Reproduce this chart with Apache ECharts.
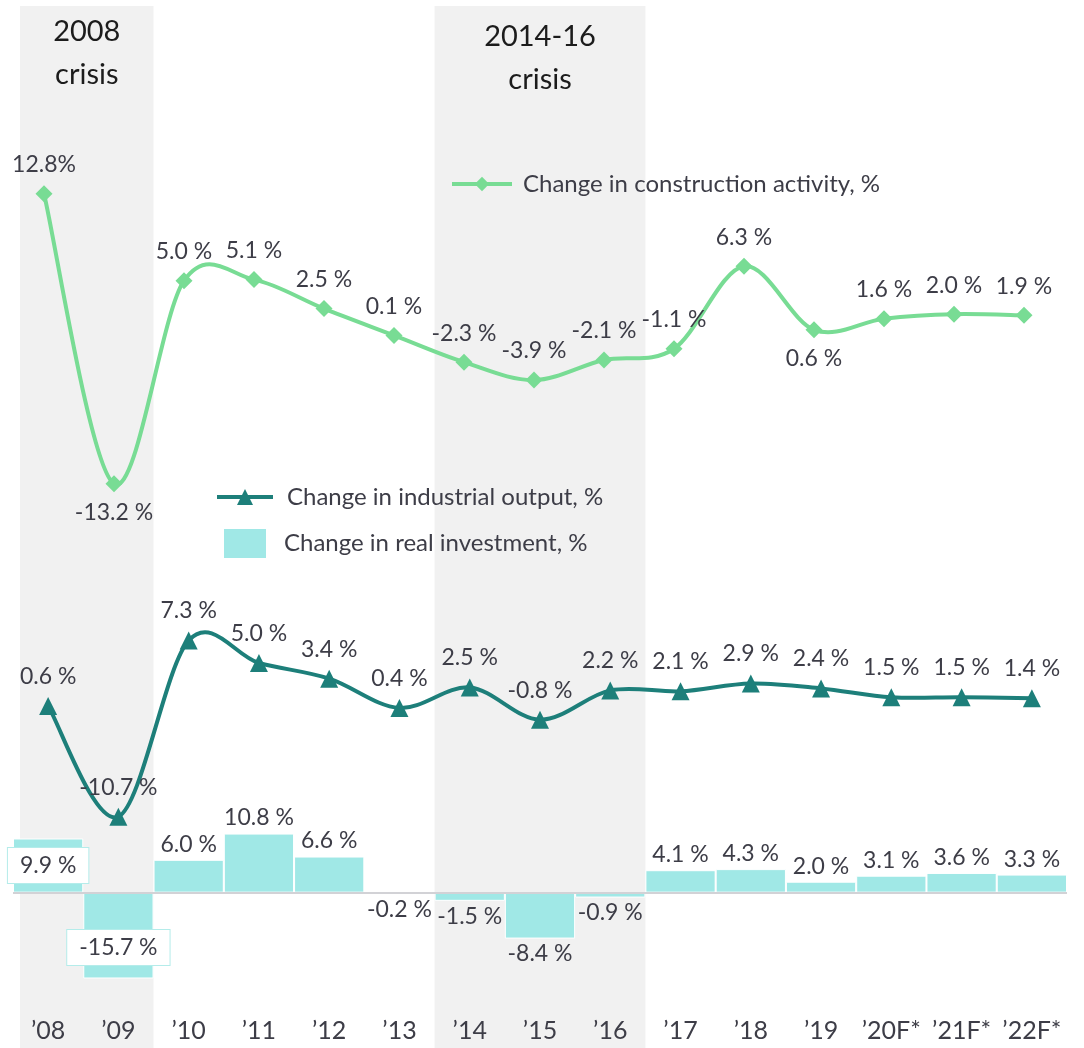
<!DOCTYPE html>
<html>
<head>
<meta charset="utf-8">
<script src="https://cdn.jsdelivr.net/npm/echarts@6/dist/echarts.min.js"></script>
<style>
  html, body { margin: 0; padding: 0; background: #fff; }
  #chart { width: 1084px; height: 1048px; }
</style>
</head>
<body>
<div id="chart"></div>
<script>
const years = ['’08', '’09', '’10', '’11', '’12', '’13', '’14', '’15', '’16', '’17', '’18', '’19', '’20F*', '’21F*', '’22F*']
const construction = [12.8, -13.2, 5.0, 5.1, 2.5, 0.1, -2.3, -3.9, -2.1, -1.1, 6.3, 0.6, 1.6, 2.0, 1.9]
const industrial = [0.6, -10.7, 7.3, 5.0, 3.4, 0.4, 2.5, -0.8, 2.2, 2.1, 2.9, 2.4, 1.5, 1.5, 1.4]
const investment = [9.9, -15.7, 6.0, 10.8, 6.6, -0.2, -1.5, -8.4, -0.9, 4.1, 4.3, 2.0, 3.1, 3.6, 3.3]
const crises = [
  { name: '2008\ncrisis', from: 0.1, to: 2 },
  { name: '2014-16\ncrisis', from: 6, to: 9 }
]

const NAMES = {
  con: 'Change in construction activity, %',
  ind: 'Change in industrial output, %',
  inv: 'Change in real investment, %'
}
const FONT = 'Lato'
const TEXT = '#3d3d47'
const GREEN = '#78dc94'
const TEAL = '#1d7f7a'
const CYAN = '#a0e8e6'
const pct = v => v.toFixed(1) + ' %'

// construction labels that sit under the point
const conBelow = [1, 11]
// investment bars whose label sits inside a white box
const invBoxed = { 0: [0, 0], 1: [0, 12] }

const chart = echarts.init(document.getElementById('chart'))

const conData = construction.map((v, i) => ({
  value: v,
  label: {
    position: conBelow.includes(i) ? 'bottom' : 'top',
    formatter: i === 0 ? v.toFixed(1) + '%' : pct(v)
  }
}))

const invData = investment.map((v, i) => {
  if (invBoxed[i]) {
    return {
      value: v,
      label: {
        position: 'inside',
        offset: invBoxed[i],
        backgroundColor: '#fff',
        borderColor: '#b4ecea',
        borderWidth: 1,
        padding: [6, 12]
      }
    }
  }
  return { value: v, label: { position: v >= 0 ? 'top' : 'bottom' } }
})

// spreadsheet-style smoothing (can overshoot between points)
const curve = (values, color) => (params, api) => {
  const i = params.dataIndex
  const n = values.length
  if (i >= n - 1) return null
  const pt = k => {
    const j = Math.max(0, Math.min(n - 1, k))
    return api.coord([j, values[j]])
  }
  const p0 = pt(i - 1), p1 = pt(i), p2 = pt(i + 1), p3 = pt(i + 2)
  return {
    type: 'bezierCurve',
    shape: {
      x1: p1[0], y1: p1[1],
      x2: p2[0], y2: p2[1],
      cpx1: p1[0] + (p2[0] - p0[0]) / 6,
      cpy1: p1[1] + (p2[1] - p0[1]) / 6,
      cpx2: p2[0] - (p3[0] - p1[0]) / 6,
      cpy2: p2[1] - (p3[1] - p1[1]) / 6
    },
    style: { stroke: color, lineWidth: 4, fill: 'none' }
  }
}

const hiddenCat = idx => ({
  type: 'category', gridIndex: idx, data: years, show: false, boundaryGap: true
})
const hiddenVal = (idx, min, max) => ({
  type: 'value', gridIndex: idx, min: min, max: max, show: false, splitLine: { show: false }
})

const legendText = pad => ({ fontSize: 24, color: TEXT, fontFamily: FONT, padding: [0, 0, 0, pad] })

const option = {
  backgroundColor: '#fff',
  animation: false,
  textStyle: { fontFamily: FONT },
  grid: [
    { left: 13, width: 1054, top: 6, height: 1042 },
    { left: 9, width: 1050, top: 158, height: 357 },
    { left: 13, width: 1054, top: 614, height: 235 },
    { left: 13, width: 1054, top: 827, height: 175 }
  ],
  xAxis: [
    { type: 'value', gridIndex: 0, min: 0, max: 15, show: false, splitLine: { show: false } },
    hiddenCat(1),
    hiddenCat(2),
    {
      type: 'category',
      gridIndex: 3,
      data: years,
      boundaryGap: true,
      z: 10,
      axisLine: { show: false },
      axisTick: { show: false },
      axisLabel: { interval: 0, fontSize: 25, color: TEXT, margin: 16, fontFamily: FONT }
    }
  ],
  yAxis: [
    hiddenVal(0, 0, 1),
    hiddenVal(1, -16, 16),
    hiddenVal(2, -14, 10),
    hiddenVal(3, -20, 12)
  ],
  legend: [
    {
      data: [NAMES.con], left: 450, top: 172, padding: 0,
      itemWidth: 60, itemHeight: 18,
      lineStyle: { color: GREEN, width: 4, opacity: 1 },
      textStyle: legendText(6)
    },
    {
      data: [NAMES.ind], left: 215, top: 485, padding: 0,
      itemWidth: 56, itemHeight: 20,
      lineStyle: { color: TEAL, width: 4, opacity: 1 },
      textStyle: legendText(9)
    },
    {
      data: [{ name: NAMES.inv, icon: 'rect' }], left: 222, top: 527, padding: 0,
      itemWidth: 44, itemHeight: 31,
      textStyle: legendText(12)
    }
  ],
  series: [
    {
      type: 'line',
      xAxisIndex: 0,
      yAxisIndex: 0,
      data: [[0, 0]],
      showSymbol: false,
      lineStyle: { width: 0 },
      silent: true,
      z: 0,
      markArea: {
        silent: true,
        itemStyle: { color: '#f1f1f1' },
        label: {
          position: 'insideTop',
          distance: 4,
          fontSize: 29,
          lineHeight: 43,
          color: '#1c1c1c',
          fontFamily: FONT
        },
        data: crises.map((c, i) => [
          { name: c.name, xAxis: c.from, label: { offset: [0, i * 5] } },
          { xAxis: c.to }
        ])
      }
    },
    {
      type: 'custom',
      xAxisIndex: 1,
      yAxisIndex: 1,
      data: construction.map((v, i) => [i, v]),
      renderItem: curve(construction, GREEN),
      silent: true,
      z: 2
    },
    {
      type: 'custom',
      xAxisIndex: 2,
      yAxisIndex: 2,
      data: industrial.map((v, i) => [i, v]),
      renderItem: curve(industrial, TEAL),
      silent: true,
      z: 2
    },
    {
      name: NAMES.con,
      type: 'line',
      xAxisIndex: 1,
      yAxisIndex: 1,
      data: conData,
      symbol: 'diamond',
      symbolSize: 17,
      itemStyle: { color: GREEN },
      lineStyle: { width: 4, color: GREEN, opacity: 0 },
      z: 3,
      label: {
        show: true,
        distance: 9,
        fontSize: 23,
        color: TEXT,
        fontFamily: FONT
      }
    },
    {
      name: NAMES.ind,
      type: 'line',
      xAxisIndex: 2,
      yAxisIndex: 2,
      data: industrial,
      symbol: 'triangle',
      symbolSize: 18,
      itemStyle: { color: TEAL },
      lineStyle: { width: 4, color: TEAL, opacity: 0 },
      z: 3,
      label: {
        show: true,
        position: 'top',
        distance: 9,
        fontSize: 23,
        color: TEXT,
        fontFamily: FONT,
        formatter: p => pct(p.value)
      }
    },
    {
      name: NAMES.inv,
      type: 'bar',
      xAxisIndex: 3,
      yAxisIndex: 3,
      data: invData,
      barCategoryGap: '0%',
      itemStyle: { color: CYAN, borderColor: '#fff', borderWidth: 1 },
      z: 2,
      label: {
        show: true,
        distance: 4,
        fontSize: 23,
        color: TEXT,
        fontFamily: FONT,
        formatter: p => pct(p.value)
      },
      markLine: {
        silent: true,
        symbol: ['none', 'none'],
        label: { show: false },
        lineStyle: { color: '#d2d2d6', width: 2, type: 'solid' },
        data: [{ yAxis: 0 }]
      }
    }
  ]
}

chart.setOption(option)
</script>
</body>
</html>
